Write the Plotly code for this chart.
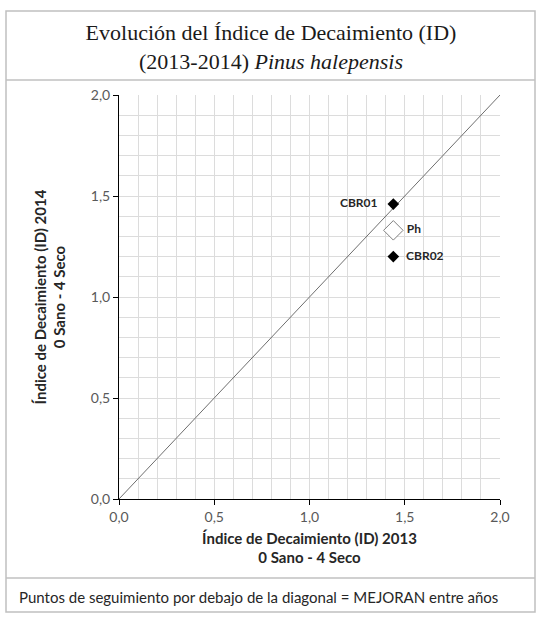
import plotly.graph_objects as go

# ID values per monitoring point
puntos = ["CBR01", "CBR02"]
id_2013 = [1.44, 1.44]
id_2014 = [1.46, 1.20]

media_label = ["Ph"]
media_2013 = [1.44]
media_2014 = [1.33]

diag_x = [0.0, 2.0]
diag_y = [0.0, 2.0]

tick_vals = [0.0, 0.5, 1.0, 1.5, 2.0]

SANS = "Lato"
lbl_font = dict(family=SANS, size=12, color="#262626")
NB = "\u00a0"

fig = go.Figure()

# 1:1 diagonal
fig.add_trace(go.Scatter(
    x=diag_x, y=diag_y, mode="lines",
    line=dict(color="#6e6e6e", width=1),
    hoverinfo="skip", showlegend=False
))

fig.add_trace(go.Scatter(
    x=[id_2013[0]], y=[id_2014[0]], mode="markers+text",
    text=["<b>" + puntos[0] + "</b>" + NB * 3], textposition="middle left",
    textfont=lbl_font,
    marker=dict(symbol="diamond", size=9, color="black"),
    showlegend=False
))
fig.add_trace(go.Scatter(
    x=[id_2013[1]], y=[id_2014[1]], mode="markers+text",
    text=[NB * 2 + "<b>" + puntos[1] + "</b>"], textposition="middle right",
    textfont=lbl_font,
    marker=dict(symbol="diamond", size=9, color="black"),
    showlegend=False
))
fig.add_trace(go.Scatter(
    x=media_2013, y=media_2014, mode="markers+text",
    text=[NB + "<b>" + t + "</b>" for t in media_label], textposition="middle right",
    textfont=lbl_font,
    marker=dict(symbol="diamond", size=15, color="white",
                line=dict(color="#7f7f7f", width=1)),
    showlegend=False
))

axis_common = dict(
    range=[0, 2],
    showgrid=True, gridcolor="#dcdcdc", gridwidth=1,
    zeroline=False, showline=True, linecolor="black", linewidth=1,
    ticks="outside", ticklen=5, tickcolor="black",
    tickvals=tick_vals, tickformat=".1f",
    tickfont=dict(family=SANS, size=14, color="#595959"),
    minor=dict(dtick=0.1, tick0=0, showgrid=True, gridcolor="#dcdcdc", ticks=""),
)

fig.update_xaxes(**axis_common,
                 title=dict(text="<b>Índice de Decaimiento (ID) 2013<br>0 Sano - 4 Seco</b>",
                            font=dict(family=SANS, size=15, color="#262626"),
                            standoff=9))
fig.update_yaxes(**axis_common,
                 title=dict(text="<b>Índice de Decaimiento (ID) 2014<br>0 Sano - 4 Seco</b>",
                            font=dict(family=SANS, size=15, color="#262626"),
                            standoff=21))

W, H = 542, 619
L, T = 119, 95
R = W - 500
B = H - 499
pw, ph = W - L - R, H - T - B


def px_x(p):
    return (p - L) / pw


def px_y(p):
    return (H - B - p) / ph


box_line = dict(color="#c0c0c0", width=1.5)
fig.update_layout(
    width=W, height=H,
    margin=dict(l=L, r=R, t=T, b=B),
    paper_bgcolor="white", plot_bgcolor="white",
    separators=",.",
    title=dict(
        text="Evolución del Índice de Decaimiento (ID)<br>(2013-2014) <i>Pinus halepensis</i>",
        x=0.5, xanchor="center", y=1 - 40 / H, yanchor="middle", yref="container",
        font=dict(family="Liberation Serif", size=22, color="#1a1a1a"),
    ),
    shapes=[
        dict(type="rect", xref="paper", yref="paper",
             x0=px_x(6), x1=px_x(535), y0=px_y(612), y1=px_y(11), line=box_line),
        dict(type="line", xref="paper", yref="paper",
             x0=px_x(6), x1=px_x(535), y0=px_y(80), y1=px_y(80), line=box_line),
        dict(type="line", xref="paper", yref="paper",
             x0=px_x(6), x1=px_x(535), y0=px_y(578), y1=px_y(578), line=box_line),
    ],
    annotations=[
        dict(text="Puntos de seguimiento por debajo de la diagonal = MEJORAN entre años",
             xref="paper", yref="paper", x=px_x(17), y=px_y(597),
             xanchor="left", yanchor="middle", showarrow=False,
             font=dict(family=SANS, size=15, color="#262626")),
    ],
)

# drop the default 8px body margin so the figure sits at the page origin
fig.write_html("out.html", config={"displayModeBar": False},
               post_script="document.body.style.margin='0px';")
